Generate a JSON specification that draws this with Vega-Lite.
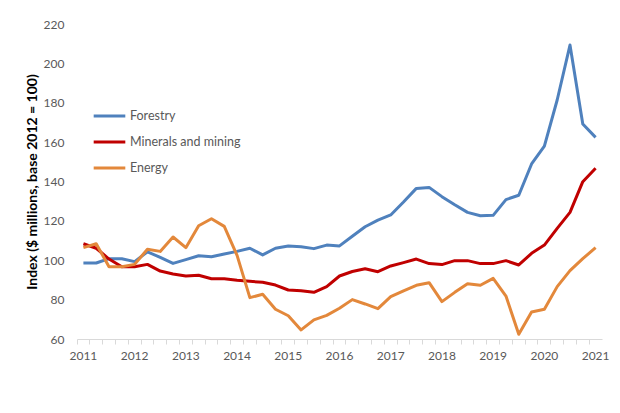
{
  "$schema": "https://vega.github.io/schema/vega-lite/v6.json",
  "width": 525,
  "height": 315,
  "autosize": {"type": "none"},
  "padding": {"left": 77, "top": 24, "right": 18, "bottom": 74},
  "background": "white",
  "config": {"view": {"stroke": null}, "font": "Lato"},
  "data": {"values": [
    {"q":"2011Q1","s":"Forestry","v":98.6},{"q":"2011Q2","s":"Forestry","v":98.6},{"q":"2011Q3","s":"Forestry","v":100.8},{"q":"2011Q4","s":"Forestry","v":100.8},
    {"q":"2012Q1","s":"Forestry","v":99.3},{"q":"2012Q2","s":"Forestry","v":104.3},{"q":"2012Q3","s":"Forestry","v":101.5},{"q":"2012Q4","s":"Forestry","v":98.4},
    {"q":"2013Q1","s":"Forestry","v":100.3},{"q":"2013Q2","s":"Forestry","v":102.3},{"q":"2013Q3","s":"Forestry","v":101.8},{"q":"2013Q4","s":"Forestry","v":103.2},
    {"q":"2014Q1","s":"Forestry","v":104.5},{"q":"2014Q2","s":"Forestry","v":106.1},{"q":"2014Q3","s":"Forestry","v":102.7},{"q":"2014Q4","s":"Forestry","v":106.1},
    {"q":"2015Q1","s":"Forestry","v":107.2},{"q":"2015Q2","s":"Forestry","v":106.9},{"q":"2015Q3","s":"Forestry","v":105.9},{"q":"2015Q4","s":"Forestry","v":107.7},
    {"q":"2016Q1","s":"Forestry","v":107.3},{"q":"2016Q2","s":"Forestry","v":112.2},{"q":"2016Q3","s":"Forestry","v":117.0},{"q":"2016Q4","s":"Forestry","v":120.4},
    {"q":"2017Q1","s":"Forestry","v":123.0},{"q":"2017Q2","s":"Forestry","v":129.6},{"q":"2017Q3","s":"Forestry","v":136.5},{"q":"2017Q4","s":"Forestry","v":137.0},
    {"q":"2018Q1","s":"Forestry","v":132.3},{"q":"2018Q2","s":"Forestry","v":128.2},{"q":"2018Q3","s":"Forestry","v":124.3},{"q":"2018Q4","s":"Forestry","v":122.6},
    {"q":"2019Q1","s":"Forestry","v":122.8},{"q":"2019Q2","s":"Forestry","v":130.8},{"q":"2019Q3","s":"Forestry","v":133.0},{"q":"2019Q4","s":"Forestry","v":148.9},
    {"q":"2020Q1","s":"Forestry","v":158.0},{"q":"2020Q2","s":"Forestry","v":181.4},{"q":"2020Q3","s":"Forestry","v":209.3},{"q":"2020Q4","s":"Forestry","v":169.2},
    {"q":"2021Q1","s":"Forestry","v":162.4},
    {"q":"2011Q1","s":"Minerals and mining","v":108.4},{"q":"2011Q2","s":"Minerals and mining","v":106.1},{"q":"2011Q3","s":"Minerals and mining","v":100.6},{"q":"2011Q4","s":"Minerals and mining","v":96.7},
    {"q":"2012Q1","s":"Minerals and mining","v":96.7},{"q":"2012Q2","s":"Minerals and mining","v":97.9},{"q":"2012Q3","s":"Minerals and mining","v":94.5},{"q":"2012Q4","s":"Minerals and mining","v":93.0},
    {"q":"2013Q1","s":"Minerals and mining","v":92.0},{"q":"2013Q2","s":"Minerals and mining","v":92.4},{"q":"2013Q3","s":"Minerals and mining","v":90.6},{"q":"2013Q4","s":"Minerals and mining","v":90.6},
    {"q":"2014Q1","s":"Minerals and mining","v":89.8},{"q":"2014Q2","s":"Minerals and mining","v":89.3},{"q":"2014Q3","s":"Minerals and mining","v":88.8},{"q":"2014Q4","s":"Minerals and mining","v":87.4},
    {"q":"2015Q1","s":"Minerals and mining","v":84.9},{"q":"2015Q2","s":"Minerals and mining","v":84.5},{"q":"2015Q3","s":"Minerals and mining","v":83.7},{"q":"2015Q4","s":"Minerals and mining","v":86.6},
    {"q":"2016Q1","s":"Minerals and mining","v":92.0},{"q":"2016Q2","s":"Minerals and mining","v":94.3},{"q":"2016Q3","s":"Minerals and mining","v":95.7},{"q":"2016Q4","s":"Minerals and mining","v":94.2},
    {"q":"2017Q1","s":"Minerals and mining","v":97.1},{"q":"2017Q2","s":"Minerals and mining","v":98.8},{"q":"2017Q3","s":"Minerals and mining","v":100.6},{"q":"2017Q4","s":"Minerals and mining","v":98.3},
    {"q":"2018Q1","s":"Minerals and mining","v":97.8},{"q":"2018Q2","s":"Minerals and mining","v":99.8},{"q":"2018Q3","s":"Minerals and mining","v":99.8},{"q":"2018Q4","s":"Minerals and mining","v":98.3},
    {"q":"2019Q1","s":"Minerals and mining","v":98.3},{"q":"2019Q2","s":"Minerals and mining","v":99.8},{"q":"2019Q3","s":"Minerals and mining","v":97.6},{"q":"2019Q4","s":"Minerals and mining","v":103.5},
    {"q":"2020Q1","s":"Minerals and mining","v":107.7},{"q":"2020Q2","s":"Minerals and mining","v":116.2},{"q":"2020Q3","s":"Minerals and mining","v":124.3},{"q":"2020Q4","s":"Minerals and mining","v":139.9},
    {"q":"2021Q1","s":"Minerals and mining","v":146.7},
    {"q":"2011Q1","s":"Energy","v":106.4},{"q":"2011Q2","s":"Energy","v":108.4},{"q":"2011Q3","s":"Energy","v":96.7},{"q":"2011Q4","s":"Energy","v":96.7},
    {"q":"2012Q1","s":"Energy","v":97.9},{"q":"2012Q2","s":"Energy","v":105.6},{"q":"2012Q3","s":"Energy","v":104.5},{"q":"2012Q4","s":"Energy","v":111.8},
    {"q":"2013Q1","s":"Energy","v":106.4},{"q":"2013Q2","s":"Energy","v":117.5},{"q":"2013Q3","s":"Energy","v":121.1},{"q":"2013Q4","s":"Energy","v":117.2},
    {"q":"2014Q1","s":"Energy","v":102.5},{"q":"2014Q2","s":"Energy","v":81.0},{"q":"2014Q3","s":"Energy","v":82.7},{"q":"2014Q4","s":"Energy","v":75.1},
    {"q":"2015Q1","s":"Energy","v":71.8},{"q":"2015Q2","s":"Energy","v":64.6},{"q":"2015Q3","s":"Energy","v":69.7},{"q":"2015Q4","s":"Energy","v":72.0},
    {"q":"2016Q1","s":"Energy","v":75.6},{"q":"2016Q2","s":"Energy","v":80.0},{"q":"2016Q3","s":"Energy","v":77.8},{"q":"2016Q4","s":"Energy","v":75.4},
    {"q":"2017Q1","s":"Energy","v":81.5},{"q":"2017Q2","s":"Energy","v":84.5},{"q":"2017Q3","s":"Energy","v":87.3},{"q":"2017Q4","s":"Energy","v":88.6},
    {"q":"2018Q1","s":"Energy","v":79.0},{"q":"2018Q2","s":"Energy","v":83.7},{"q":"2018Q3","s":"Energy","v":88.1},{"q":"2018Q4","s":"Energy","v":87.3},
    {"q":"2019Q1","s":"Energy","v":90.8},{"q":"2019Q2","s":"Energy","v":81.8},{"q":"2019Q3","s":"Energy","v":62.4},{"q":"2019Q4","s":"Energy","v":73.7},
    {"q":"2020Q1","s":"Energy","v":75.1},{"q":"2020Q2","s":"Energy","v":86.6},{"q":"2020Q3","s":"Energy","v":94.7},{"q":"2020Q4","s":"Energy","v":100.8},
    {"q":"2021Q1","s":"Energy","v":106.4}
  ]},
  "mark": {"type": "line", "strokeWidth": 3, "strokeJoin": "round"},
  "encoding": {
    "x": {
      "field": "q", "type": "ordinal",
      "scale": {"type": "band", "paddingInner": 0, "paddingOuter": 0},
      "axis": {
        "title": null,
        "labelExpr": "slice(datum.value, 4) == 'Q1' ? slice(datum.value, 0, 4) : ''",
        "labelOverlap": false,
        "labelAngle": 0,
        "labelFontSize": 12,
        "labelColor": "#595959",
        "labelPadding": 6,
        "bandPosition": 0,
        "tickSize": 5,
        "tickColor": "#D9D9D9",
        "domainColor": "#D9D9D9",
        "grid": false
      }
    },
    "y": {
      "field": "v", "type": "quantitative",
      "scale": {"domain": [60, 220], "nice": false, "zero": false},
      "axis": {
        "title": "Index ($ millions, base 2012 = 100)",
        "titleFontSize": 14,
        "titleFontWeight": "bold",
        "titleColor": "#000000",
        "titlePadding": 4,
        "values": [60, 80, 100, 120, 140, 160, 180, 200, 220],
        "labelFontSize": 12,
        "labelColor": "#595959",
        "labelPadding": 13,
        "domain": false,
        "ticks": false,
        "grid": false
      }
    },
    "color": {
      "field": "s", "type": "nominal",
      "scale": {"domain": ["Forestry", "Minerals and mining", "Energy"], "range": ["#4F81BD", "#C00000", "#E3883B"]},
      "legend": {
        "title": null,
        "orient": "none",
        "legendX": 15,
        "legendY": 80,
        "symbolType": "stroke",
        "symbolSize": 1000,
        "symbolStrokeWidth": 3,
        "clipHeight": 24,
        "rowPadding": 2,
        "labelOffset": 3,
        "labelFontSize": 12.5,
        "labelColor": "#595959"
      }
    }
  }
}
